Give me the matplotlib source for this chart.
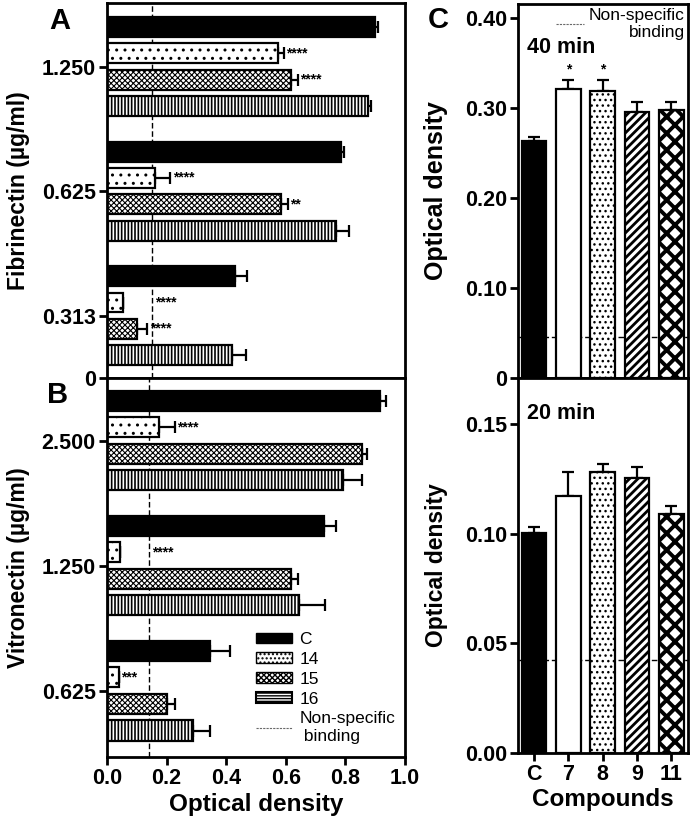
import matplotlib
matplotlib.use("Agg")
import matplotlib.pyplot as plt
from matplotlib.patches import Patch
from matplotlib.lines import Line2D
import numpy as np

plt.rcParams["font.family"] = ["Liberation Sans", "DejaVu Sans"]

# Panel A - fibrinectin coating (ug/ml), top to bottom
fib_doses = ["1.250", "0.625", "0.313"]
fib_c = [0.900, 0.785, 0.430]
fib_c_err = [0.010, 0.012, 0.040]
fib_14 = [0.573, 0.162, 0.053]
fib_14_err = [0.020, 0.050, 0.000]
fib_15 = [0.616, 0.585, 0.100]
fib_15_err = [0.025, 0.022, 0.035]
fib_16 = [0.877, 0.770, 0.420]
fib_16_err = [0.010, 0.042, 0.046]
fib_14_stars = ["****", "****", "****"]
fib_15_stars = ["****", "**", "****"]
fib_nsb = 0.152

# Panel B - vitronectin coating (ug/ml), top to bottom
vit_doses = ["2.500", "1.250", "0.625"]
vit_c = [0.916, 0.727, 0.345]
vit_c_err = [0.022, 0.040, 0.067]
vit_14 = [0.174, 0.045, 0.039]
vit_14_err = [0.053, 0.000, 0.000]
vit_15 = [0.857, 0.616, 0.200]
vit_15_err = [0.016, 0.025, 0.027]
vit_16 = [0.792, 0.646, 0.290]
vit_16_err = [0.064, 0.084, 0.055]
vit_14_stars = ["****", "****", "***"]
vit_nsb = 0.140

# Panel C - adhesion time course
compounds = ["C", "7", "8", "9", "11"]
od_40 = [0.263, 0.321, 0.319, 0.295, 0.297]
od_40_err = [0.004, 0.010, 0.012, 0.011, 0.009]
stars_40 = ["", "*", "*", "", ""]
nsb_40 = 0.046
od_20 = [0.1005, 0.117, 0.128, 0.1256, 0.109]
od_20_err = [0.0025, 0.011, 0.004, 0.005, 0.0035]
nsb_20 = 0.0425

BAR_LW = 1.6
SPINE_LW = 2.0
TICK_FS = 15.5
LABEL_FS = 16.5

# style for each compound in A/B: (face, hatch, hatch lw)
hstyles = {
    "C": ("black", None, 1.0),
    "14": ("white", "..", 1.0),
    "15": ("white", "xxxxxx", 0.8),
    "16": ("white", "|||||", 1.2),
}
cstyles = [
    ("black", None, 1.0),
    ("white", None, 1.0),
    ("white", "...", 1.0),
    ("white", "////", 2.0),
    ("white", "xx", 2.8),
]


def style_axes(ax):
    for s in ax.spines.values():
        s.set_linewidth(SPINE_LW)
    ax.tick_params(width=SPINE_LW, length=6, labelsize=TICK_FS, pad=2)
    for t in ax.get_xticklabels() + ax.get_yticklabels():
        t.set_fontweight("bold")


def hbar_panel(ax, doses, series, nsb, star_sets):
    pos = np.arange(len(doses))[::-1].astype(float)
    pitch = 0.212
    offsets = [1.5, 0.5, -0.5, -1.5]
    ax.axvline(nsb, color="black", ls=(0, (4, 2)), lw=1.0, zorder=0.5)
    for k, (name, vals, errs) in enumerate(series):
        face, hatch, hlw = hstyles[name]
        y = pos + offsets[k] * pitch
        with plt.rc_context({"hatch.linewidth": hlw}):
            ax.barh(y, vals, height=0.16, color=face, edgecolor="black",
                    hatch=hatch, linewidth=BAR_LW, zorder=2,
                    xerr=[np.zeros(len(errs)), errs],
                    error_kw=dict(elinewidth=1.6, capsize=4, capthick=1.6,
                                  ecolor="black", zorder=1))
        if name in star_sets:
            stars, after_line = star_sets[name]
            for i, s in enumerate(stars):
                x = vals[i] + errs[i] + 0.008
                if after_line[i]:
                    x = nsb + 0.01
                ax.text(x, y[i], s, fontsize=10, fontweight="bold",
                        va="center", ha="left")
    ax.set_xlim(0, 1.0)
    return pos


fig = plt.figure(figsize=(6.92, 8.25), dpi=100)

axA = fig.add_axes([0.1546, 0.5418, 0.4306, 0.4545])
posA = hbar_panel(
    axA, fib_doses,
    [("C", fib_c, fib_c_err), ("14", fib_14, fib_14_err),
     ("15", fib_15, fib_15_err), ("16", fib_16, fib_16_err)],
    fib_nsb,
    {"14": (fib_14_stars, [False, False, True]),
     "15": (fib_15_stars, [False, False, False])})
axA.set_ylim(-0.5, 2.51)
axA.set_yticks(list(posA) + [-0.5], fib_doses + ["0"])
axA.set_xticks([])
axA.set_ylabel("Fibrinectin (\u00b5g/ml)", fontsize=LABEL_FS, fontweight="bold")
axA.yaxis.set_label_coords(-0.26, 0.5)
style_axes(axA)
axA.tick_params(axis="x", length=0)

axB = fig.add_axes([0.1546, 0.0824, 0.4306, 0.4594])
posB = hbar_panel(
    axB, vit_doses,
    [("C", vit_c, vit_c_err), ("14", vit_14, vit_14_err),
     ("15", vit_15, vit_15_err), ("16", vit_16, vit_16_err)],
    vit_nsb,
    {"14": (vit_14_stars, [False, True, False])})
axB.set_ylim(-0.53, 2.5)
axB.set_yticks(posB, vit_doses)
axB.set_xticks(np.arange(0, 1.01, 0.2), [f"{v:.1f}" for v in np.arange(0, 1.01, 0.2)])
axB.set_ylabel("Vitronectin (\u00b5g/ml)", fontsize=LABEL_FS, fontweight="bold")
axB.yaxis.set_label_coords(-0.26, 0.5)
axB.set_xlabel("Optical density", fontsize=17.5, fontweight="bold", labelpad=3)
style_axes(axB)

legB = [
    Patch(facecolor="black", edgecolor="black", label="C"),
    Patch(facecolor="white", edgecolor="black", hatch="....", label="14"),
    Patch(facecolor="white", edgecolor="black", hatch="xxxxxx", label="15"),
    Patch(facecolor="white", edgecolor="black", hatch="------", lw=1.5, label="16"),
    Line2D([], [], color="dimgray", ls=(0, (2, 1)), lw=0.8, label="Non-specific\n binding"),
]
lg = axB.legend(handles=legB, loc="upper left", bbox_to_anchor=(0.5, 0.33),
                frameon=False, fontsize=12.5, handlelength=2.1, handleheight=0.55,
                labelspacing=0.28, handletextpad=0.4, borderpad=0, borderaxespad=0)

# Panel C
xc = np.arange(len(compounds))
axC1 = fig.add_axes([0.7486, 0.5418, 0.2457, 0.4533])
axC2 = fig.add_axes([0.7486, 0.0873, 0.2457, 0.4545])
for ax, vals, errs, nsb in [(axC1, od_40, od_40_err, nsb_40),
                            (axC2, od_20, od_20_err, nsb_20)]:
    ax.axhline(nsb, color="black", ls=(0, (4, 2)), lw=1.0, zorder=0.5)
    for i in range(len(compounds)):
        face, hatch, hlw = cstyles[i]
        with plt.rc_context({"hatch.linewidth": hlw}):
            ax.bar(xc[i], vals[i], width=0.72, color=face, edgecolor="black",
                   hatch=hatch, linewidth=BAR_LW, zorder=2,
                   yerr=[[0], [errs[i]]],
                   error_kw=dict(elinewidth=1.6, capsize=4.5, capthick=1.6,
                                 ecolor="black", zorder=1))
    ax.set_xlim(-0.47, 4.49)

axC1.set_ylabel("Optical density", fontsize=18, fontweight="bold")
axC1.yaxis.set_label_coords(-0.41, 0.5)
axC2.set_ylabel("Optical density", fontsize=LABEL_FS, fontweight="bold")
axC2.yaxis.set_label_coords(-0.41, 0.5)

for i, s in enumerate(stars_40):
    if s:
        axC1.text(xc[i], od_40[i] + od_40_err[i] + 0.004, s, ha="center",
                  va="bottom", fontsize=10, fontweight="bold")

axC1.set_ylim(0, 0.415)
axC1.set_yticks([0, 0.1, 0.2, 0.3, 0.4], ["0", "0.10", "0.20", "0.30", "0.40"])
axC1.set_xticks([])
axC1.text(0.05, 0.885, "40 min", transform=axC1.transAxes, fontsize=15.5,
          fontweight="bold", va="center")
legC = axC1.legend(handles=[Line2D([], [], color="dimgray", ls=(0, (2, 1)), lw=0.8,
                                   label="Non-specific\nbinding")],
                   loc="upper right", bbox_to_anchor=(1.0, 1.0), frameon=False,
                   fontsize=12.5, handlelength=1.6, handletextpad=0.3,
                   borderpad=0.1, borderaxespad=0.1)
for t in legC.get_texts():
    t.set_multialignment("right")
style_axes(axC1)
axC1.tick_params(axis="x", length=0)

axC2.set_ylim(0, 0.171)
axC2.set_yticks([0, 0.05, 0.10, 0.15], ["0.00", "0.05", "0.10", "0.15"])
axC2.set_xticks(xc, compounds)
axC2.set_xlabel("Compounds", fontsize=17.5, fontweight="bold", labelpad=2)
axC2.text(0.05, 0.905, "20 min", transform=axC2.transAxes, fontsize=15.5,
          fontweight="bold", va="center")
style_axes(axC2)

# panel letters
fig.text(60 / 692, 1 - 21 / 825, "A", fontsize=21, fontweight="bold", ha="center", va="center")
fig.text(58 / 692, 1 - 395 / 825, "B", fontsize=21, fontweight="bold", ha="center", va="center")
fig.text(438 / 692, 1 - 20 / 825, "C", fontsize=21, fontweight="bold", ha="center", va="center")

fig.savefig("out.png", dpi=100)
